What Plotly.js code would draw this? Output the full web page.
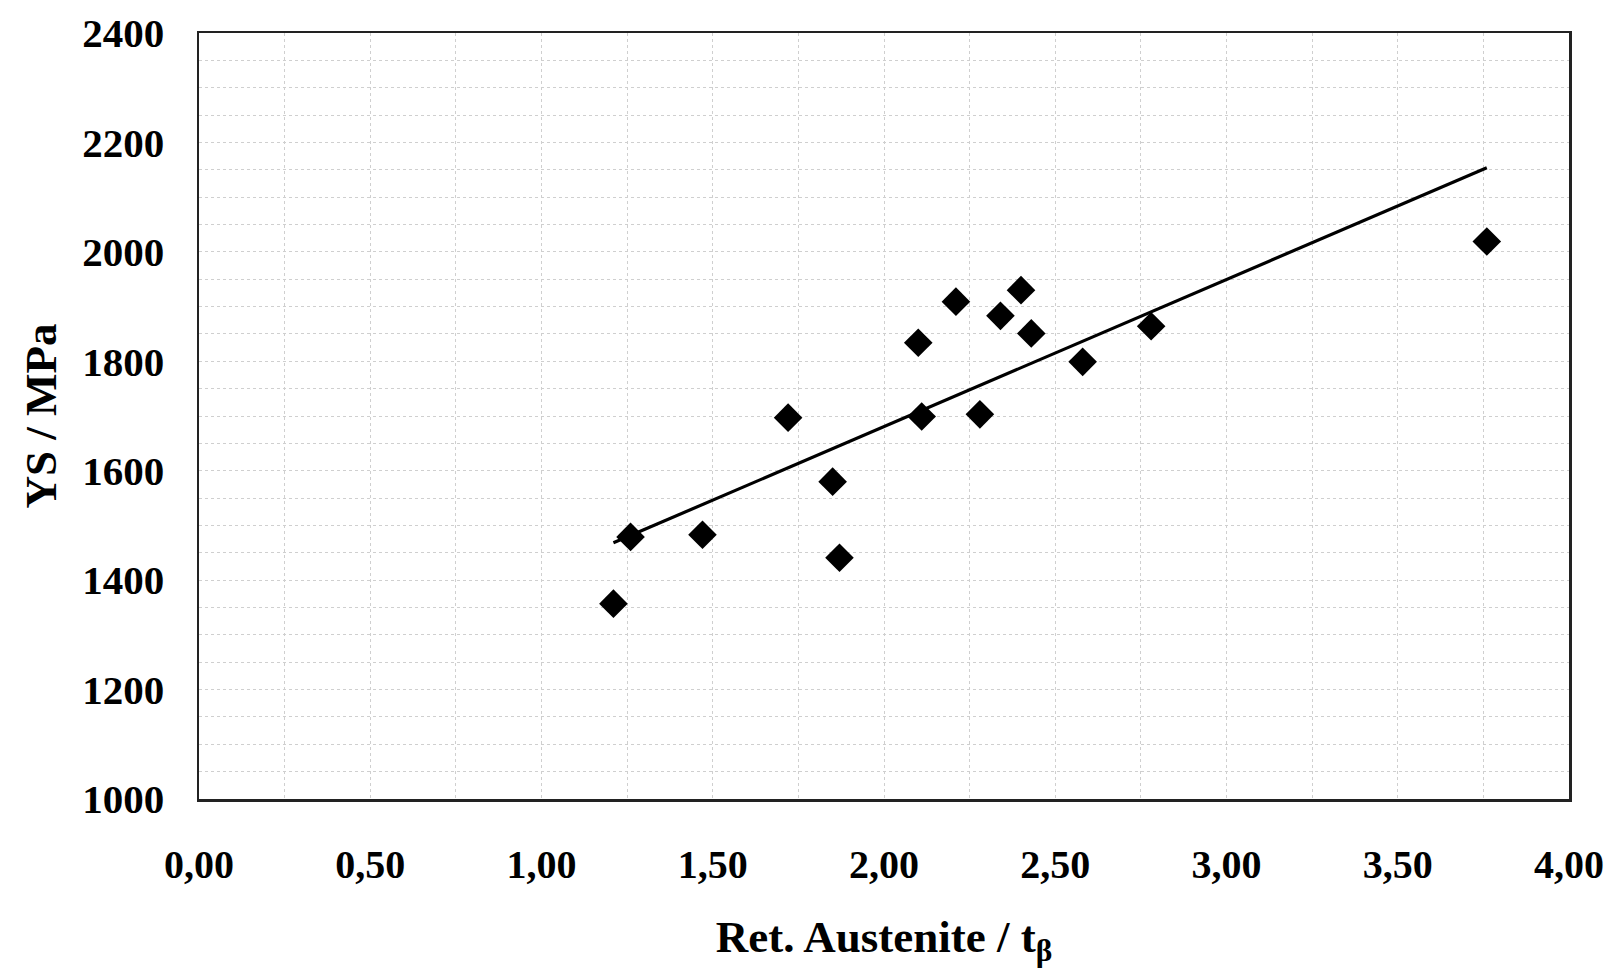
<!DOCTYPE html>
<html>
<head>
<meta charset="utf-8">
<script src="https://cdn.plot.ly/plotly-3.0.1.min.js"></script>
<style>html,body{margin:0;padding:0;background:#fff;}#chart{width:1613px;height:968px;}</style>
</head>
<body>
<div id="chart"></div>
<script>
// Retained austenite (x) vs yield strength (y)
var retAustenite = [1.21, 1.26, 1.47, 1.72, 1.85, 1.87, 2.10, 2.11, 2.21, 2.28, 2.34, 2.40, 2.43, 2.58, 2.78, 3.76];
var yieldStrength = [1357, 1479, 1483, 1697, 1580, 1441, 1834, 1699, 1909, 1703, 1883, 1930, 1851, 1799, 1864, 2019];
var xTickVals = [0, 0.5, 1, 1.5, 2, 2.5, 3, 3.5, 4];
var yTickVals = [1000, 1200, 1400, 1600, 1800, 2000, 2200, 2400];

// Linear least-squares trend line (as in the original spreadsheet)
function linearFit(xs, ys) {
  var n = xs.length, mx = 0, my = 0;
  for (var i = 0; i < n; i++) { mx += xs[i]; my += ys[i]; }
  mx /= n; my /= n;
  var sxy = 0, sxx = 0;
  for (var j = 0; j < n; j++) { sxy += (xs[j] - mx) * (ys[j] - my); sxx += (xs[j] - mx) * (xs[j] - mx); }
  var b = sxy / sxx;
  return { slope: b, intercept: my - b * mx };
}
var fit = linearFit(retAustenite, yieldStrength);
var xMin = Math.min.apply(null, retAustenite), xMax = Math.max.apply(null, retAustenite);
var trendX = [xMin, xMax];
var trendY = trendX.map(function (v) { return fit.intercept + fit.slope * v; });

var fontFam = '"Liberation Serif", "Times New Roman", serif';

var traces = [
  {
    x: trendX, y: trendY, type: 'scatter', mode: 'lines',
    line: { color: '#000', width: 3.2 }, hoverinfo: 'skip', showlegend: false
  },
  {
    x: retAustenite, y: yieldStrength, type: 'scatter', mode: 'markers',
    marker: { symbol: 'diamond', size: 22, color: '#000', line: { width: 0 } },
    showlegend: false
  }
];

var gridColor = '#cfcfcf';

var layout = {
  width: 1613, height: 968,
  margin: { l: 199, r: 44, t: 33, b: 169 },
  paper_bgcolor: '#fff', plot_bgcolor: '#fff',
  separators: ',.',
  font: { family: fontFam, color: '#000', size: 40, weight: 'bold' },
  xaxis: {
    range: [0, 4], tickvals: xTickVals, tickformat: '.2f',
    ticks: '', ticklabelstandoff: 28,
    tickfont: { family: fontFam, size: 40, color: '#000', weight: 'bold' },
    showgrid: true, gridcolor: gridColor, gridwidth: 1, griddash: 'dot',
    minor: { dtick: 0.25, showgrid: true, gridcolor: gridColor, gridwidth: 1, griddash: 'dot' },
    showline: true, mirror: true, linecolor: '#222', linewidth: 2.5,
    zeroline: false, fixedrange: true,
    title: { text: 'Ret. Austenite / t<sub>β</sub>', font: { family: fontFam, size: 45, color: '#000', weight: 'bold' }, standoff: 36 }
  },
  yaxis: {
    range: [1000, 2400], tickvals: yTickVals, tickformat: 'd',
    ticks: '', ticklabelstandoff: 24,
    tickfont: { family: fontFam, size: 41, color: '#000', weight: 'bold' },
    showgrid: true, gridcolor: gridColor, gridwidth: 1, griddash: 'dot',
    minor: { dtick: 50, showgrid: true, gridcolor: gridColor, gridwidth: 1, griddash: 'dot' },
    showline: true, mirror: true, linecolor: '#222', linewidth: 2.5,
    zeroline: false, fixedrange: true,
    title: { text: 'YS / MPa', font: { family: fontFam, size: 45, color: '#000', weight: 'bold' }, standoff: 12 }
  }
};

Plotly.newPlot('chart', traces, layout, { displayModeBar: false, staticPlot: true });
</script>
</body>
</html>
